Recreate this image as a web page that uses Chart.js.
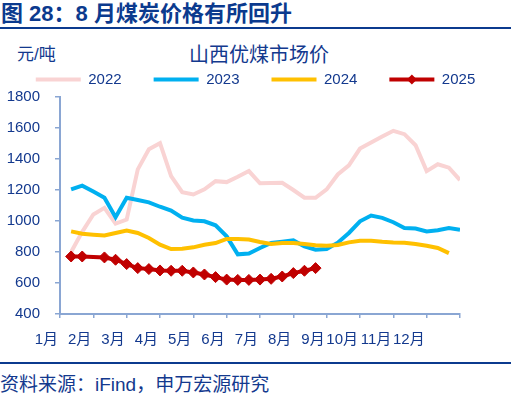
<!DOCTYPE html>
<html>
<head>
<meta charset="utf-8">
<script src="https://cdn.jsdelivr.net/npm/chart.js@4.4.0/dist/chart.umd.min.js"></script>
<style>
  body { margin: 0; background: #fff; }
  #page { position: relative; width: 511px; height: 394px; overflow: hidden;
          font-family: "Liberation Sans", "Noto Sans CJK SC", sans-serif; color: #13398e; }
  .txt { position: absolute; white-space: nowrap; }
  #title { left: 1px; top: 2px; font-size: 22px; line-height: 24px; font-weight: bold; color: #0b3a8e; }
  #unit { left: 17px; top: 45px; font-size: 17px; line-height: 20px; }
  #sub { left: 189px; top: 44px; font-size: 20px; line-height: 22px; }
  #source { left: 0px; top: 374px; font-size: 19px; line-height: 22px; }
  .rule { position: absolute; left: 0; width: 511px; height: 2px; background: #0b3a8e; }
  #box { position: absolute; left: 0; top: 40px; width: 511px; height: 314px; }
</style>
</head>
<body>
<div id="page">
  <div class="txt" id="title">图 28：8 月煤炭价格有所回升</div>
  <div class="rule" style="top:27px"></div>
  <div class="txt" id="unit">元/吨</div>
  <div class="txt" id="sub">山西优煤市场价</div>
  <div id="box"><canvas id="chart"></canvas></div>
  <div class="rule" style="top:362px"></div>
  <div class="txt" id="source">资料来源：iFind，申万宏源研究</div>
</div>
<script>
// 山西优混煤市场价，按旬（每月3个点）
months = ['1月','2月','3月','4月','5月','6月','7月','8月','9月','10月','11月','12月']
yTicks = [400, 600, 800, 1000, 1200, 1400, 1600, 1800]

price2022 = [800, 930, 1042, 1085, 983, 1009, 1333, 1463, 1502, 1290, 1186, 1171,
             1204, 1257, 1251, 1285, 1322, 1243, 1245, 1247, 1200, 1150, 1150, 1204,
             1300, 1359, 1467, 1506, 1545, 1582, 1560, 1489, 1322, 1366, 1344, 1264]
price2023 = [1204, 1228, 1190, 1150, 1025, 1150, 1135, 1120, 1092, 1067, 1022, 1003,
             998, 972, 901, 785, 790, 826, 858, 866, 875, 836, 815, 819,
             860, 923, 998, 1035, 1020, 992, 955, 951, 933, 940, 955, 944]
price2024 = [933, 918, 912, 907, 923, 938, 923, 890, 847, 819, 821, 830,
             847, 858, 884, 884, 880, 865, 852, 858, 858, 852, 843, 840,
             845, 862, 873, 873, 866, 862, 860, 852, 840, 826, 793]
price2025 = [771, 771, null, 765, 750, 722, 696, 690, 681, 679, 679, 668,
             655, 638, 622, 620, 620, 622, 627, 642, 664, 679, 696]

navy = '#13398e'
axisColor = '#8aa6d3'
font = "'Liberation Sans', 'Noto Sans CJK SC', sans-serif"

function toPoints(values) {
	return values.map(function (v, i) { return {x: i + 1, y: v} })
}

function line(label, values, color, order) {
	return {
		label: label,
		data: toPoints(values),
		borderColor: color,
		backgroundColor: color,
		borderWidth: 4,
		pointRadius: 0,
		tension: 0,
		spanGaps: true,
		order: order
	}
}

set2025 = line('2025', price2025, '#c00000', 1)
set2025.pointStyle = 'rectRot'
set2025.pointRadius = 5.5
set2025.pointBorderWidth = 1
set2025.pointHoverRadius = 5.5

// diamond in the middle of the 2025 legend line
legendDiamond = {
	id: 'legendDiamond',
	afterDraw: function (chart) {
		var box = chart.legend.legendHitBoxes[3]
		if (!box) return
		var ctx = chart.ctx
		var cx = box.left + 22.5, cy = box.top + 7.5, r = 5
		ctx.save()
		ctx.fillStyle = '#c00000'
		ctx.beginPath()
		ctx.moveTo(cx, cy - r); ctx.lineTo(cx + r, cy); ctx.lineTo(cx, cy + r); ctx.lineTo(cx - r, cy)
		ctx.closePath()
		ctx.fill()
		ctx.restore()
	}
}

new Chart(document.getElementById('chart'), {
	type: 'line',
	data: {
		datasets: [
			line('2022', price2022, '#f9d3d3', 4),
			line('2023', price2023, '#00b0f0', 3),
			line('2024', price2024, '#ffc000', 2),
			set2025
		]
	},
	options: {
		responsive: true,
		maintainAspectRatio: false,
		animation: false,
		layout: { padding: 0 },
		plugins: {
			tooltip: { enabled: false },
			legend: {
				position: 'top',
				labels: {
					boxWidth: 45,
					boxHeight: 4,
					padding: 32,
					color: navy,
					font: { family: font, size: 15 },
					sort: function (a, b) { return a.datasetIndex - b.datasetIndex },
					generateLabels: function (chart) {
						var items = Chart.defaults.plugins.legend.labels.generateLabels(chart)
						items.forEach(function (it) {
							var ds = chart.data.datasets[it.datasetIndex]
							it.fillStyle = ds.borderColor
							it.lineWidth = 0
						})
						return items
					}
				}
			}
		},
		scales: {
			x: {
				type: 'linear',
				min: 0,
				max: 36,
				grid: { drawOnChartArea: false, tickLength: 4, color: axisColor, lineWidth: 1.5 },
				border: { color: axisColor, width: 2 },
				afterFit: function (scale) { scale.height = 40 },
				ticks: {
					stepSize: 3,
					autoSkip: false,
					maxRotation: 0,
					align: 'end',
					labelOffset: -2,
					padding: 13,
					color: navy,
					font: { family: font, size: 15 },
					callback: function (v) { return months[v / 3] || '' }
				}
			},
			y: {
				min: yTicks[0],
				max: yTicks[yTicks.length - 1],
				grid: { drawOnChartArea: false, tickLength: 5, color: axisColor, lineWidth: 1.5 },
				border: { color: axisColor, width: 2 },
				afterFit: function (scale) { scale.width = 60 },
				afterBuildTicks: function (scale) { scale.ticks = yTicks.map(function (v) { return {value: v} }) },
				ticks: {
					padding: 15,
					color: navy,
					font: { family: font, size: 15 },
					callback: function (v) { return String(v) }
				}
			},
			// empty right-hand axis, only to leave the blank strip right of the plot
			yRight: {
				position: 'right',
				min: 0,
				max: 1,
				grid: { display: false },
				border: { display: false },
				ticks: { display: false },
				afterFit: function (scale) { scale.width = 51 }
			}
		}
	},
	plugins: [legendDiamond]
})
</script>
</body>
</html>
